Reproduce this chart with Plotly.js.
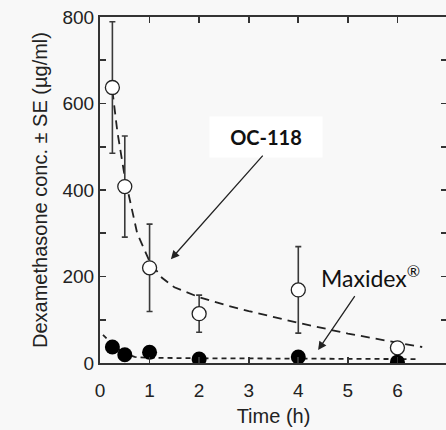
<!DOCTYPE html>
<html>
<head>
<meta charset="utf-8">
<script src="https://cdn.plot.ly/plotly-3.0.1.min.js"></script>
<style>
html,body{margin:0;padding:0;overflow:hidden;background:#f8f8f8;}
#chart{width:450px;height:430px;}
</style>
</head>
<body>
<div id="chart"></div>
<script>
var time = [0.25, 0.5, 1, 2, 4, 6];
var oc118 = [637, 408, 220, 114, 169, 35];
var oc118Err = [152, 117, 101, 43, 100, 0];
var maxidex = [37, 19, 25, 9, 14, 2];

// Fitted (dashed) curves
var ocFitT = [0.25, 0.35, 0.5, 0.75, 1, 1.25, 1.5, 2, 2.5, 3, 4, 5, 6, 6.5];
var ocFit  = [630, 535, 430, 300, 235, 197, 175, 152, 135, 120, 93, 68, 47, 37];
var mxFitT = [0.06, 0.15, 0.25, 0.4, 0.55, 0.7, 1, 2, 4, 6.4];
var mxFit  = [65, 55, 44, 30, 20, 14, 12, 11, 10, 9];

var xTicks = [0, 1, 2, 3, 4, 5, 6, 7];
var xTickText = ['0', '1', '2', '3', '4', '5', '6', '7'];
var yTicks = [0, 100, 200, 300, 400, 500, 600, 700, 800];
var yTickText = ['0', '', '200', '', '400', '', '600', '', '800'];

var ink = '#222222';
var font = 'Arial';

var traces = [
  {x: ocFitT, y: ocFit, mode: 'lines', line: {color: ink, width: 1.8, dash: '9px,6px'}, hoverinfo: 'skip'},
  {x: mxFitT, y: mxFit, mode: 'lines', line: {color: ink, width: 1.8, dash: '5px,4px'}, hoverinfo: 'skip'},
  {x: time, y: oc118, mode: 'markers', name: 'OC-118',
   error_y: {type: 'data', array: oc118Err, visible: true, color: '#3a3a3a', thickness: 1.6, width: 3},
   marker: {symbol: 'circle', size: 14, color: '#ffffff', line: {color: ink, width: 1.3}}},
  {x: time, y: maxidex, mode: 'markers', name: 'Maxidex',
   marker: {symbol: 'circle', size: 15, color: '#000000', line: {color: '#000', width: 0}}}
];

var layout = {
  width: 450, height: 430,
  margin: {l: 100, r: 3, t: 17, b: 67},
  paper_bgcolor: '#f8f8f8', plot_bgcolor: '#f8f8f8',
  showlegend: false,
  font: {family: font, color: ink, size: 19},
  xaxis: {
    range: [0, 7], tickmode: 'array', tickvals: xTicks, ticktext: xTickText,
    ticks: 'inside', ticklen: 6, tickwidth: 1.6, tickcolor: '#333333',
    showline: true, linecolor: '#333333', linewidth: 2, mirror: 'allticks',
    showgrid: false, zeroline: false,
    ticklabelstandoff: 9,
    tickfont: {family: font, size: 19, color: ink},
    title: {text: 'Time (h)', font: {family: font, size: 20, color: ink}, standoff: 9}
  },
  yaxis: {
    range: [0, 800], tickmode: 'array', tickvals: yTicks, ticktext: yTickText,
    ticks: 'inside', ticklen: 6, tickwidth: 1.6, tickcolor: '#333333',
    showline: true, linecolor: '#333333', linewidth: 2, mirror: 'allticks',
    showgrid: false, zeroline: false,
    tickfont: {family: font, size: 19, color: ink},
    title: {text: 'Dexamethasone conc. \u00b1 SE (\u00b5g/ml)', font: {family: font, size: 20, color: ink}, standoff: 9}
  },
  annotations: [
    {x: 3.35, y: 523, xref: 'x', yref: 'y', text: '<b>OC-118</b>', showarrow: false,
     font: {family: 'Lato', size: 20, color: '#111'}, bgcolor: '#ffffff',
     width: 110, height: 38},
    {x: 1.43, y: 240, xref: 'x', yref: 'y', ax: 3.31, ay: 483, axref: 'x', ayref: 'y',
     text: '', showarrow: true, arrowhead: 2, arrowsize: 1.3, arrowwidth: 1.3, arrowcolor: '#222'},
    {x: 5.45, y: 200, xref: 'x', yref: 'y', text: 'Maxidex<sup>\u00ae</sup>', showarrow: false,
     font: {family: 'Lato', size: 23, color: '#111'}},
    {x: 4.4, y: 30, xref: 'x', yref: 'y', ax: 5.16, ay: 158, axref: 'x', ayref: 'y',
     text: '', showarrow: true, arrowhead: 2, arrowsize: 1.3, arrowwidth: 1.3, arrowcolor: '#222'}
  ]
};

Plotly.newPlot('chart', traces, layout, {displayModeBar: false, staticPlot: true});
</script>
</body>
</html>
